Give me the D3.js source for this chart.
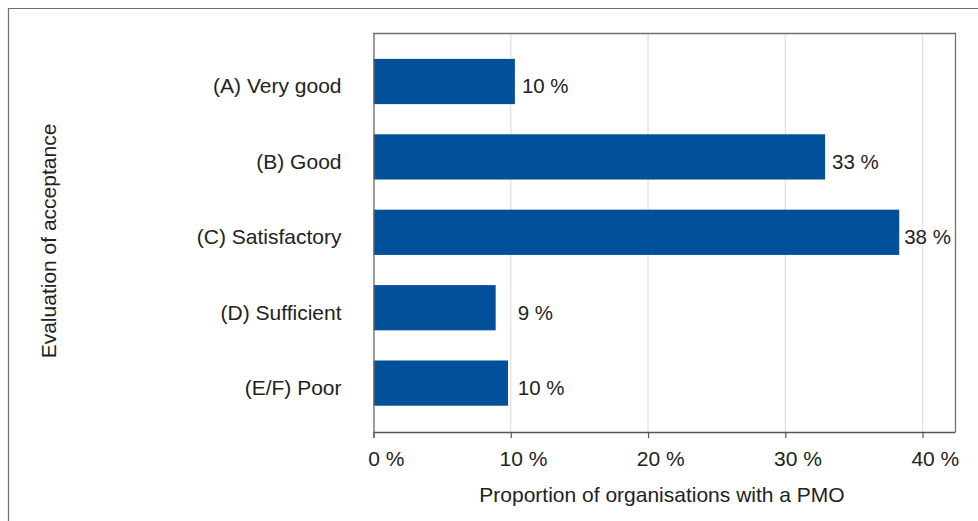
<!DOCTYPE html>
<html>
<head>
<meta charset="utf-8">
<script src="https://cdn.jsdelivr.net/npm/d3@7/dist/d3.min.js"></script>
<style>
  html, body { margin: 0; padding: 0; background: #fff; }
  svg { display: block; }
  text { font-family: "Liberation Sans", Arial, sans-serif; fill: #222; }
</style>
</head>
<body>
<svg id="chart" width="978" height="521"></svg>
<script>
// Evaluation of PMO acceptance (share of organisations with a PMO)
const categories = ["(A) Very good", "(B) Good", "(C) Satisfactory", "(D) Sufficient", "(E/F) Poor"];
const shares = [10.3, 32.9, 38.3, 8.9, 9.8];
const tickValues = [0, 10, 20, 30, 40];
const xTitle = "Proportion of organisations with a PMO";
const yTitle = "Evaluation of acceptance";

const svg = d3.select("#chart");
const W = 978, H = 521;
const FONT = 21;
const plot = { left: 373.5, right: 955.5, top: 33, bottom: 432 };

// outer frame (left and top edges)
svg.append("path")
  .attr("d", `M8.5,${H} V8.5 H${W}`)
  .attr("fill", "none").attr("stroke", "#6e6e6e").attr("stroke-width", 1.2);

const x = d3.scaleLinear().domain([0, 42.4]).range([plot.left, plot.right]);
const y = d3.scaleBand().domain(categories).range([43.8, 420.8])
  .paddingInner(0.4).paddingOuter(0.2);

// vertical gridlines
svg.append("g").selectAll("line")
  .data(tickValues.filter(v => v > 0))
  .join("line")
  .attr("x1", d => x(d)).attr("x2", d => x(d))
  .attr("y1", plot.top).attr("y2", plot.bottom)
  .attr("stroke", "#e2e2e2").attr("stroke-width", 1.3);

// plot frame: top and right edges
svg.append("path")
  .attr("d", `M${plot.left},${plot.top + 0.5} H${plot.right} V${plot.bottom}`)
  .attr("fill", "none").attr("stroke", "#707070").attr("stroke-width", 1.3);

// bars
const rows = categories.map((c, i) => ({ c, v: shares[i] }));
svg.append("g").selectAll("rect")
  .data(rows)
  .join("rect")
  .attr("x", x(0))
  .attr("y", d => y(d.c))
  .attr("width", d => x(d.v) - x(0))
  .attr("height", y.bandwidth())
  .attr("fill", "#02509a");

// value labels, kept clear of the 10 % gridline
const fmt = d3.format(".0f");
svg.append("g").selectAll("text")
  .data(rows)
  .join("text")
  .attr("x", d => Math.max(x(d.v), x(10)) + (d.v > 35 ? 5 : 7))
  .attr("y", d => y(d.c) + y.bandwidth() / 2 + 11.8)
  .attr("font-size", FONT - 0.5)
  .text(d => fmt(d.v) + " %");

// x axis
const xAxis = svg.append("g")
  .attr("transform", `translate(0,${plot.bottom})`)
  .call(d3.axisBottom(x).tickValues(tickValues).tickSize(6).tickPadding(0)
    .tickFormat(d => d + " %"));
xAxis.select(".domain").attr("stroke", "#555").attr("stroke-width", 1.3)
  .attr("d", `M${plot.left},0.5H${plot.right}`);
xAxis.selectAll(".tick line").attr("stroke", "#555").attr("stroke-width", 1.2);

// measure the numeric part so that the number itself sits centred on its tick
const probe = svg.append("text").attr("font-size", FONT);
xAxis.selectAll(".tick text")
  .attr("font-size", FONT).attr("fill", "#222")
  .attr("font-family", "Liberation Sans, Arial, sans-serif")
  .attr("text-anchor", "start")
  .attr("dy", null)
  .attr("y", 34)
  .attr("x", d => {
    probe.text(String(d));
    return -probe.node().getComputedTextLength() / 2;
  });
probe.remove();

// y axis
const yAxis = svg.append("g")
  .attr("transform", `translate(${plot.left},0)`)
  .call(d3.axisLeft(y).tickSize(0).tickPadding(32));
yAxis.select(".domain").attr("stroke", "#666").attr("stroke-width", 1.3)
  .attr("d", `M0.5,${plot.top}V${plot.bottom + 6}`);
yAxis.selectAll(".tick text")
  .attr("font-size", FONT).attr("fill", "#222")
  .attr("font-family", "Liberation Sans, Arial, sans-serif")
  .attr("dy", null)
  .attr("y", 11.8);

// axis titles
svg.append("text")
  .attr("x", 662)
  .attr("y", 502)
  .attr("text-anchor", "middle")
  .attr("font-size", FONT)
  .text(xTitle);

svg.append("text")
  .attr("transform", `translate(55.5,241) rotate(-90)`)
  .attr("text-anchor", "middle")
  .attr("font-size", FONT)
  .text(yTitle);
</script>
</body>
</html>
